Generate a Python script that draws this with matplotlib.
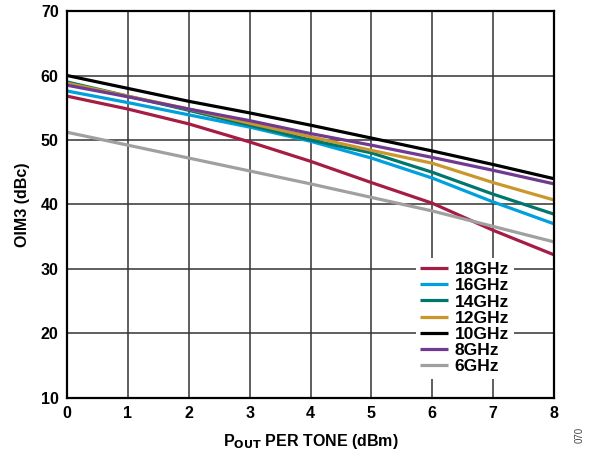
import matplotlib.pyplot as plt

plt.rcParams['font.family'] = ['Liberation Sans', 'DejaVu Sans']
plt.rcParams['font.weight'] = 'bold'

pout = [0, 1, 2, 3, 4, 5, 6, 7, 8]
oim3_18 = [56.8, 54.8, 52.5, 49.7, 46.7, 43.4, 40.2, 36.0, 32.2]
oim3_16 = [57.6, 55.8, 53.9, 52.0, 49.8, 47.2, 44.1, 40.4, 37.0]
oim3_14 = [59.0, 56.8, 54.6, 52.3, 50.0, 48.0, 45.0, 41.6, 38.5]
oim3_12 = [58.8, 56.8, 54.8, 52.6, 50.5, 48.4, 46.4, 43.4, 40.7]
oim3_10 = [60.0, 58.0, 56.0, 54.2, 52.3, 50.3, 48.3, 46.2, 44.0]
oim3_8 = [58.5, 56.7, 54.8, 53.0, 51.0, 49.2, 47.3, 45.3, 43.2]
oim3_6 = [51.2, 49.2, 47.2, 45.2, 43.2, 41.1, 39.0, 36.6, 34.2]

series = [
    ('18GHz', oim3_18, '#a51c45'),
    ('16GHz', oim3_16, '#00a0dc'),
    ('14GHz', oim3_14, '#00776d'),
    ('12GHz', oim3_12, '#c9972b'),
    ('10GHz', oim3_10, '#000000'),
    ('8GHz', oim3_8, '#6f3a8f'),
    ('6GHz', oim3_6, '#a0a0a0'),
]

fig = plt.figure(figsize=(5.91, 4.55), dpi=100)
ax = fig.add_axes([0.1134, 0.1253, 0.824, 0.8505])

for name, vals, col in series:
    ax.plot(pout, vals, color=col, lw=2.3, label=name, solid_capstyle='butt')

ax.set_xlim(0, 8)
ax.set_ylim(10, 70)
ax.set_xticks(range(0, 9))
ax.set_yticks(range(10, 71, 10))
ax.grid(True, color='#333333', lw=1.1)
ax.tick_params(length=0, labelsize=11.5, pad=6)
for s in ax.spines.values():
    s.set_linewidth(1.6)
    s.set_color('black')
for lbl in ax.get_xticklabels() + ax.get_yticklabels():
    lbl.set_fontweight('bold')

ax.set_xlabel(r'P$_{\mathbf{OUT}}$ PER TONE (dBm)', fontsize=11.5, fontweight='bold', labelpad=8)
ax.set_ylabel('OIM3 (dBc)', fontsize=11.5, fontweight='bold', labelpad=8)

leg = ax.legend(loc='lower right', bbox_to_anchor=(0.917, 0.05), frameon=True,
                fancybox=False, edgecolor='none', facecolor='white', framealpha=1,
                fontsize=12.5, handlelength=1.6, handletextpad=0.4, labelspacing=0.06,
                borderpad=0.25, borderaxespad=0)
for t in leg.get_texts():
    t.set_fontweight('bold')

fig.text(0.972, 0.03, '070', rotation=90, fontsize=7, color='#444444', fontweight='normal')

fig.savefig('out.png', dpi=100)
